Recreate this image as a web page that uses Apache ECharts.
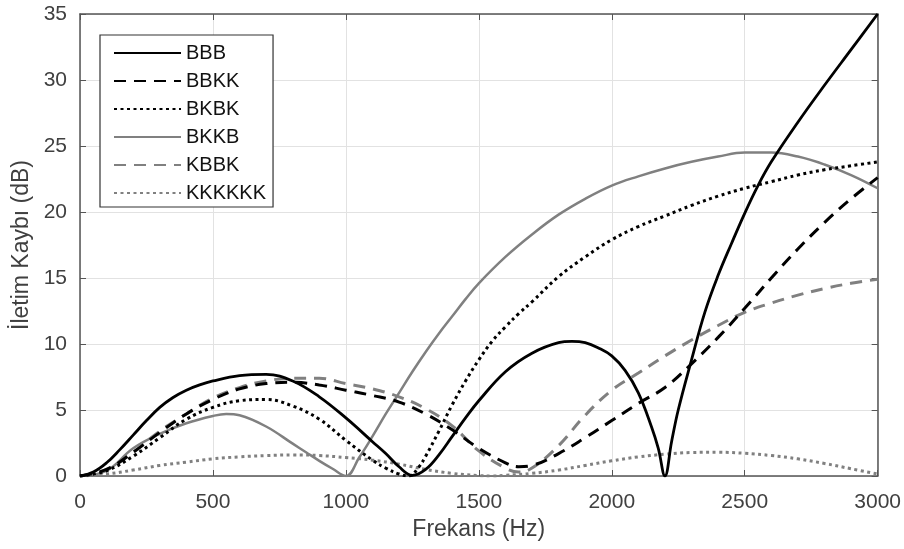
<!DOCTYPE html>
<html>
<head>
<meta charset="utf-8">
<script src="https://cdn.jsdelivr.net/npm/echarts@6/dist/echarts.min.js"></script>
<style>html,body{margin:0;padding:0;background:#fff}#c{width:904px;height:549px}</style>
</head>
<body>
<div id="c"></div>
<script>
// ---- data (frequency in Hz, transmission loss in dB) ----
var seriesNames = ['BBB', 'BBKK', 'BKBK', 'BKKB', 'KBBK', 'KKKKKK'];
var xTicks = [0, 500, 1000, 1500, 2000, 2500, 3000];
var yTicks = [0, 5, 10, 15, 20, 25, 30, 35];

var bbbHz = [0,50,100,150,200,250,300,350,400,450,500,600,700,800,900,1000,1100,1150,1200,1250,1300,1350,1400,1450,1500,1600,1700,1800,1850,1900,1950,2000,2050,2100,2150,2175,2200,2225,2250,2300,2350,2400,2450,2500,2550,2600,2700,2800,2900,3000];
var bbbDb = [0,0.3,1.0,2.0,3.1,4.2,5.2,5.95,6.5,6.9,7.2,7.6,7.7,7.2,6.0,4.4,2.6,1.7,0.7,0.05,0.5,1.6,3.0,4.4,5.7,7.9,9.3,10.1,10.2,10.1,9.7,9.1,8.0,6.3,3.7,2.1,0,2.6,5.0,8.8,12.4,15.2,17.6,19.9,22.0,23.8,26.8,29.6,32.3,35.0];

var bbkkHz = [0,100,200,300,400,500,600,700,800,900,1000,1100,1200,1300,1400,1500,1600,1650,1700,1800,1900,2000,2100,2200,2300,2400,2500,2600,2700,2800,2900,3000];
var bbkkDb = [0,0.5,1.8,3.3,4.7,5.8,6.6,7.0,7.1,6.9,6.5,6.1,5.6,4.7,3.5,2.1,1.0,0.7,0.8,1.7,2.9,4.2,5.5,6.7,8.5,10.5,12.7,15.0,17.2,19.2,21.0,22.6];

var bkbkHz = [0,100,200,300,400,500,600,700,800,900,1000,1100,1150,1200,1237,1275,1300,1350,1400,1450,1500,1550,1600,1650,1700,1800,1900,2000,2100,2200,2300,2400,2500,2600,2700,2800,2900,3000];
var bkbkDb = [0,0.4,1.5,2.9,4.3,5.2,5.7,5.8,5.3,4.3,2.7,1.2,0.6,0.15,0,0.7,1.5,3.4,5.4,7.2,8.8,10.2,11.3,12.3,13.2,15.1,16.6,17.9,18.9,19.7,20.5,21.2,21.8,22.3,22.8,23.2,23.5,23.8];

var bkkbHz = [0,100,200,300,400,500,550,600,700,800,850,900,950,1000,1050,1100,1150,1200,1250,1300,1350,1400,1450,1500,1600,1700,1800,1900,2000,2100,2200,2300,2400,2500,2600,2700,2800,2900,3000];
var bkkbDb = [0,0.4,2.1,3.2,4.0,4.55,4.7,4.6,3.75,2.45,1.8,1.15,0.55,0,1.4,3.0,4.7,6.3,7.9,9.4,10.8,12.1,13.4,14.6,16.6,18.3,19.8,21.0,22.0,22.7,23.3,23.8,24.2,24.5,24.5,24.2,23.6,22.8,21.8];

var kbbkHz = [0,100,200,300,400,500,600,700,800,900,1000,1100,1200,1300,1400,1500,1600,1650,1700,1800,1900,2000,2100,2200,2300,2400,2500,2600,2700,2800,2900,3000];
var kbbkDb = [0,0.5,1.8,3.4,4.7,5.9,6.7,7.2,7.4,7.4,7.0,6.6,6.0,5.1,3.8,1.9,0.6,0.3,0.6,2.3,4.6,6.5,7.8,9.1,10.3,11.4,12.4,13.1,13.7,14.2,14.6,14.9];

var kkkHz = [0,100,200,300,400,500,600,700,800,900,1000,1100,1200,1300,1400,1500,1550,1600,1700,1800,1900,2000,2100,2200,2300,2400,2500,2600,2700,2800,2900,3000];
var kkkDb = [0,0.15,0.45,0.8,1.05,1.3,1.45,1.55,1.6,1.55,1.4,1.2,0.9,0.5,0.2,0.03,0,0.05,0.2,0.45,0.8,1.15,1.45,1.65,1.78,1.8,1.72,1.55,1.3,0.95,0.55,0.15];

function zip(xs, ys) { return xs.map(function (x, i) { return [x, ys[i]]; }); }

var FONT = '"Liberation Sans", Arial, sans-serif';
var BLACK = '#000000', GRAY = '#808080';

function mk(name, xs, ys, color, dash, width) {
  return {
    name: name, type: 'line', data: zip(xs, ys), showSymbol: false, symbol: 'none',
    smooth: 0.4, xAxisIndex: 0, yAxisIndex: 0,
    lineStyle: { color: color, width: width, type: dash, cap: 'butt' },
    itemStyle: { color: color }, emphasis: { disabled: true }, animation: false
  };
}

var chart = echarts.init(document.getElementById('c'), null, { renderer: 'canvas' });
var axisLineColor = '#555555';
var labelColor = '#404040';

chart.setOption({
  animation: false,
  backgroundColor: '#ffffff',
  grid: { left: 80, right: 24, top: 14, bottom: 73, containLabel: false },
  legend: {
    orient: 'vertical', left: 100, top: 35,
    data: seriesNames,
    itemWidth: 67, itemHeight: 14, itemGap: 8,
    padding: [8, 7, 4, 13],
    borderColor: '#333333', borderWidth: 1.2, backgroundColor: '#ffffff',
    itemStyle: { color: 'rgba(0,0,0,0)', borderWidth: 0, borderColor: 'rgba(0,0,0,0)' },
    textStyle: { fontFamily: FONT, fontSize: 20, color: '#111111' },
    selectedMode: false
  },
  xAxis: [{
    type: 'value', min: 0, max: 3000, interval: 500, position: 'bottom',
    name: 'Frekans (Hz)', nameLocation: 'middle', nameGap: 42,
    nameTextStyle: { fontFamily: FONT, fontSize: 23, color: labelColor },
    axisLine: { show: true, onZero: false, lineStyle: { color: axisLineColor, width: 1.5 } },
    axisTick: { show: true, inside: true, length: 6, lineStyle: { color: axisLineColor } },
    axisLabel: { fontFamily: FONT, fontSize: 21, color: labelColor, margin: 16,
      formatter: function (v) { return xTicks.indexOf(v) >= 0 ? String(v) : ''; } },
    splitLine: { show: true, lineStyle: { color: '#e2e2e2', width: 1 } }
  }, {
    type: 'value', min: 0, max: 3000, interval: 500, position: 'top',
    axisLine: { show: true, onZero: false, lineStyle: { color: axisLineColor, width: 1.5 } },
    axisTick: { show: true, inside: true, length: 6, lineStyle: { color: axisLineColor } },
    axisLabel: { show: false }, splitLine: { show: false }
  }],
  yAxis: [{
    type: 'value', min: 0, max: 35, interval: 5, position: 'left',
    name: 'İletim Kaybı (dB)', nameLocation: 'middle', nameGap: 41, nameRotate: 90,
    nameTextStyle: { fontFamily: FONT, fontSize: 23, color: labelColor },
    axisLine: { show: true, onZero: false, lineStyle: { color: axisLineColor, width: 1.5 } },
    axisTick: { show: true, inside: true, length: 6, lineStyle: { color: axisLineColor } },
    axisLabel: { fontFamily: FONT, fontSize: 21, color: labelColor, margin: 13,
      formatter: function (v) { return yTicks.indexOf(v) >= 0 ? String(v) : ''; } },
    splitLine: { show: true, lineStyle: { color: '#e2e2e2', width: 1 } }
  }, {
    type: 'value', min: 0, max: 35, interval: 5, position: 'right',
    axisLine: { show: true, onZero: false, lineStyle: { color: axisLineColor, width: 1.5 } },
    axisTick: { show: true, inside: true, length: 6, lineStyle: { color: axisLineColor } },
    axisLabel: { show: false }, splitLine: { show: false }
  }],
  series: [
    mk('KKKKKK', kkkHz, kkkDb, GRAY, [3, 3.5], 3),
    mk('KBBK', kbbkHz, kbbkDb, GRAY, [12, 8], 3),
    mk('BKKB', bkkbHz, bkkbDb, GRAY, 'solid', 2.5),
    mk('BKBK', bkbkHz, bkbkDb, BLACK, [3, 3.5], 3),
    mk('BBKK', bbkkHz, bbkkDb, BLACK, [12, 8], 3),
    mk('BBB', bbbHz, bbbDb, BLACK, 'solid', 2.8)
  ]
});
</script>
</body>
</html>
